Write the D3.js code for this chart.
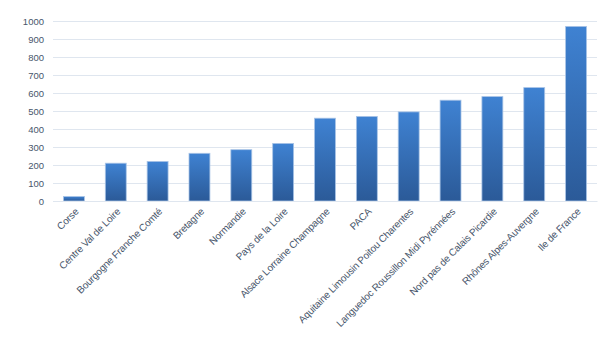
<!DOCTYPE html>
<html lang="fr">
<head>
<meta charset="UTF-8">
<script src="https://d3js.org/d3.v7.min.js"></script>
<style>
  body { margin: 0; background: #fff; font-family: "Open Sans", Arial, sans-serif; }
  .grid line { stroke: #dfe6ef; stroke-width: 1; }
  .tick text { fill: #48566b; }
</style>
</head>
<body>
<svg id="chart"></svg>
<script>
// Données
const regions = ["Corse", "Centre Val de Loire", "Bourgogne Franche Comté", "Bretagne", "Normandie",
  "Pays de la Loire", "Alsace Lorraine Champagne", "PACA", "Aquitaine Limousin Poitou Charentes",
  "Languedoc Roussillon Midi Pyrénnées", "Nord pas de Calais Picardie", "Rhônes Alpes-Auvergne", "Ile de France"];
const values = [25, 210, 220, 265, 285, 320, 460, 470, 495, 560, 580, 630, 970];
const yTicks = [0, 100, 200, 300, 400, 500, 600, 700, 800, 900, 1000];

const width = 616, height = 346;
const margin = { top: 21, right: 19, bottom: 145, left: 53 };

const svg = d3.select("#chart").attr("width", width).attr("height", height);

const x = d3.scaleBand()
  .domain(regions)
  .range([margin.left, width - margin.right])
  .paddingInner(0.5)
  .paddingOuter(0.25);

const y = d3.scaleLinear()
  .domain([0, 1000])
  .range([height - margin.bottom, margin.top]);

// dégradé des barres
const grad = svg.append("defs").append("linearGradient")
  .attr("id", "barGrad").attr("x1", 0).attr("y1", 0).attr("x2", 0).attr("y2", 1);
grad.append("stop").attr("offset", "0%").attr("stop-color", "#3f82d2");
grad.append("stop").attr("offset", "100%").attr("stop-color", "#2b5a98");

// grille
svg.append("g")
  .attr("class", "grid")
  .selectAll("line")
  .data(yTicks)
  .join("line")
  .attr("x1", margin.left)
  .attr("x2", width - margin.right)
  .attr("y1", d => y(d) + 0.5)
  .attr("y2", d => y(d) + 0.5);

// axe Y
const yAxis = svg.append("g")
  .attr("transform", `translate(${margin.left},0)`)
  .call(d3.axisLeft(y).tickValues(yTicks).tickFormat(d3.format("d")).tickSize(0).tickPadding(9));
yAxis.select(".domain").remove();
yAxis.selectAll("text").style("font-size", "9.5px");

// barres
svg.append("g")
  .selectAll("rect")
  .data(values)
  .join("rect")
  .attr("x", (d, i) => x(regions[i]))
  .attr("y", d => y(d))
  .attr("width", x.bandwidth())
  .attr("height", d => y(0) - y(d))
  .attr("fill", "url(#barGrad)")
  .attr("stroke", "#a9c4e6")
  .attr("stroke-width", 0.8);

// axe X
const xAxis = svg.append("g")
  .attr("transform", `translate(0,${y(0)})`)
  .call(d3.axisBottom(x).tickSize(0).tickPadding(6));
xAxis.select(".domain").attr("stroke", "#dfe6ef");
xAxis.selectAll("text")
  .style("font-size", "10px")
  .style("letter-spacing", "-0.2px")
  .attr("text-anchor", "end")
  .attr("transform", "translate(-4,2) rotate(-45)");
</script>
</body>
</html>
